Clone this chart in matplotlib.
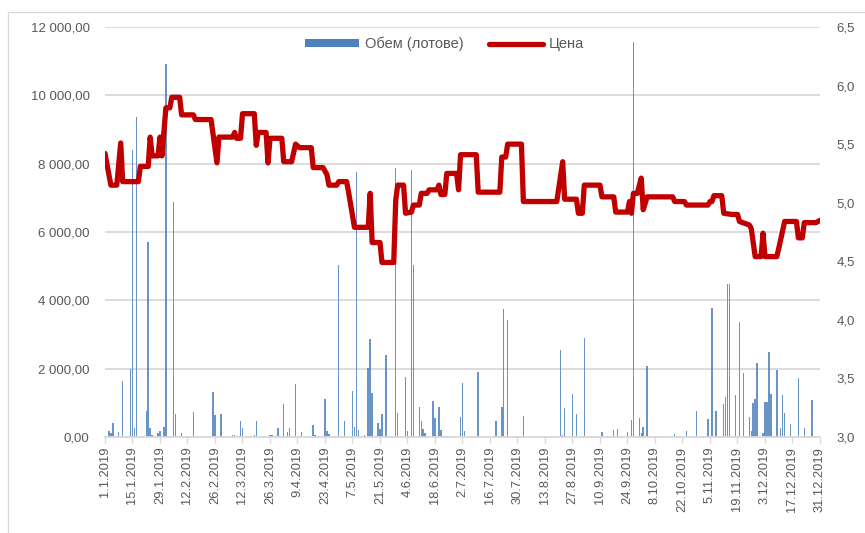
import numpy as np
import pandas as pd
import matplotlib
matplotlib.use("Agg")
import matplotlib.pyplot as plt
import matplotlib.dates as mdates
from matplotlib.patches import Rectangle, Patch
from matplotlib.lines import Line2D
from matplotlib.ticker import FuncFormatter, FixedLocator

START = pd.Timestamp("2019-01-01")

# price (right axis), day offsets from 1.1.2019
PRICE_DAYS = [0, 3, 6, 8, 9, 17, 18, 22, 23, 24, 27, 28, 29, 31, 33, 34, 38, 39, 45, 46,
              54, 57, 58, 65, 66, 67, 69, 70, 76, 77, 78, 82, 83, 84, 90, 91, 95, 97, 99,
              105, 106, 111, 113, 114, 118, 119, 123, 124, 127, 134, 135, 136, 140, 141,
              147, 148, 149, 152, 153, 156, 157, 160, 161, 164, 165, 169, 170, 171, 173,
              174, 179, 180, 181, 189, 190, 201, 202, 204, 205, 212, 213, 230, 233, 234,
              240, 241, 243, 244, 252, 253, 259, 260, 266, 267, 268, 269, 271, 273, 274,
              276, 289, 290, 295, 296, 307, 308, 309, 310, 314, 315, 319, 322, 323, 328,
              329, 331, 334, 335, 336, 342, 343, 346, 352, 353, 355, 356, 362, 364]
PRICE = [5.42, 5.15, 5.15, 5.51, 5.18, 5.18, 5.31, 5.31, 5.56, 5.40, 5.40, 5.56, 5.40,
         5.81, 5.81, 5.90, 5.90, 5.75, 5.75, 5.71, 5.71, 5.34, 5.56, 5.56, 5.60, 5.55,
         5.55, 5.76, 5.76, 5.49, 5.60, 5.60, 5.34, 5.55, 5.55, 5.35, 5.35, 5.50, 5.47,
         5.47, 5.30, 5.30, 5.24, 5.15, 5.15, 5.18, 5.18, 5.09, 4.79, 4.79, 5.08, 4.66,
         4.66, 4.49, 4.49, 5.02, 5.15, 5.15, 4.91, 4.92, 4.98, 4.98, 5.08, 5.08, 5.11,
         5.11, 5.15, 5.07, 5.07, 5.25, 5.25, 5.11, 5.41, 5.41, 5.09, 5.09, 5.39, 5.39,
         5.50, 5.50, 5.01, 5.01, 5.35, 5.03, 5.03, 4.91, 4.91, 5.15, 5.15, 5.05, 5.05,
         4.92, 4.92, 5.01, 4.91, 5.08, 5.08, 5.21, 4.94, 5.05, 5.05, 5.01, 5.01, 4.98,
         4.98, 5.01, 5.01, 5.06, 5.06, 4.91, 4.90, 4.90, 4.84, 4.81, 4.78, 4.54, 4.54,
         4.74, 4.54, 4.54, 4.61, 4.84, 4.84, 4.70, 4.70, 4.83, 4.83, 4.85]

# volume (left axis)
VOL_DAYS = [2, 3, 4, 7, 9, 13, 14, 15, 16, 21, 22, 23, 24, 27, 28, 30, 31, 35, 36, 39,
            45, 55, 56, 59, 65, 66, 69, 70, 76, 77, 84, 85, 88, 91, 93, 94, 97, 100,
            106, 107, 112, 113, 114, 119, 122, 126, 127, 128, 129, 132, 134, 135, 136,
            139, 140, 141, 143, 148, 149, 153, 154, 156, 157, 160, 161, 162, 163, 167,
            168, 170, 171, 174, 181, 182, 183, 190, 199, 202, 203, 205, 213, 232, 233,
            234, 238, 240, 244, 253, 259, 261, 266, 268, 269, 272, 273, 274, 276, 290,
            296, 301, 307, 309, 311, 315, 316, 317, 318, 321, 323, 325, 328, 329, 330,
            331, 332, 335, 336, 337, 338, 339, 342, 344, 345, 346, 349, 353, 356, 360]
VOLUME = [170, 120, 410, 150, 1640, 1990, 8400, 260, 9370, 760, 5700, 260, 60, 120, 170,
          290, 10920, 6880, 670, 120, 730, 1310, 640, 670, 60, 60, 470, 260, 60, 470, 60,
          60, 260, 970, 150, 260, 1550, 150, 350, 50, 1110, 170, 90, 5030, 470, 1350,
          290, 7760, 200, 60, 2020, 2870, 1290, 410, 230, 670, 2400, 7870, 700, 1760,
          170, 7820, 5030, 880, 470, 230, 120, 1050, 560, 880, 200, 30, 580, 1580, 170,
          1900, 470, 880, 3750, 3420, 620, 2550, 60, 850, 1260, 670, 2900, 150, 200, 230,
          150, 500, 11560, 560, 120, 290, 2080, 90, 170, 760, 530, 3780, 760, 970, 1170,
          4480, 4480, 1230, 3370, 1870, 580, 170, 1000, 1110, 2170, 120, 1020, 1020, 2490,
          1260, 1960, 260, 1230, 700, 380, 1730, 260, 1080]

VOL_TICKS = [0, 2000, 4000, 6000, 8000, 10000, 12000]
PRICE_TICKS = [3.0, 3.5, 4.0, 4.5, 5.0, 5.5, 6.0, 6.5]
LABELS = ["Обем (лотове)", "Цена"]

GREY_TXT = "#595959"
GRID = "#D9D9D9"
BLUE = "#4F81BD"
RED = "#C00000"

plt.rcParams["font.family"] = ["Liberation Sans", "DejaVu Sans"]
plt.rcParams["font.size"] = 9

price_dates = START + pd.to_timedelta(PRICE_DAYS, unit="D")
vol_dates = START + pd.to_timedelta(VOL_DAYS, unit="D")
tick_dates = START + pd.to_timedelta(np.arange(0, 365, 14), unit="D")

fig = plt.figure(figsize=(8.65, 5.33), dpi=100)
fig.patches.append(Rectangle((8 / 865, -0.01), 1.0, (533 - 12) / 533 + 0.01,
                             transform=fig.transFigure, fill=False,
                             edgecolor=GRID, lw=1.0))

ax = fig.add_axes([105 / 865, 1 - 437 / 533, 715 / 865, 410 / 533])
ax.bar(vol_dates, VOLUME, width=0.75, color=BLUE, alpha=0.85, zorder=2)
ax.set_ylim(0, 12000)
ax.set_yticks(VOL_TICKS)
ax.yaxis.set_major_formatter(FuncFormatter(
    lambda v, p: f"{v:,.2f}".replace(",", " ").replace(".", ",")))
ax.grid(axis="y", color=GRID, lw=1.3, zorder=0)
ax.set_axisbelow(True)
for s in ["left", "right", "top"]:
    ax.spines[s].set_visible(False)
ax.spines["bottom"].set_color(GRID)
ax.spines["bottom"].set_linewidth(1.3)
ax.tick_params(axis="y", length=0, pad=11, labelcolor=GREY_TXT, labelsize=9.5)

ax.set_xlim(START, START + pd.Timedelta(days=364))
ax.xaxis.set_major_locator(FixedLocator(mdates.date2num(tick_dates)))
ax.xaxis.set_major_formatter(FuncFormatter(
    lambda v, p: (lambda d: f"{d.day}.{d.month}.{d.year}")(mdates.num2date(v))))
ax.tick_params(axis="x", length=4, color=GRID, width=1.0, pad=3,
               labelrotation=90, labelcolor=GREY_TXT, labelsize=9.3)

ax2 = ax.twinx()
ax2.plot(price_dates, PRICE, color=RED, lw=3.8, solid_joinstyle="round",
         solid_capstyle="round", zorder=3)
ax2.set_ylim(3.0, 6.5)
ax2.set_yticks(PRICE_TICKS)
ax2.yaxis.set_major_formatter(FuncFormatter(lambda v, p: f"{v:.1f}".replace(".", ",")))
for s in ["left", "right", "top", "bottom"]:
    ax2.spines[s].set_visible(False)
ax2.tick_params(axis="y", length=0, pad=12, labelcolor=GREY_TXT, labelsize=9.5)

handles = [Patch(facecolor=BLUE, edgecolor="none"),
           Line2D([], [], color=RED, lw=3.8, solid_capstyle="round")]
leg = ax2.legend(handles, LABELS, loc="center", bbox_to_anchor=(0.475, 0.958),
                 ncol=2, frameon=False, handlelength=3.7, handleheight=0.5,
                 columnspacing=1.8, handletextpad=0.4, fontsize=10.5)
for t in leg.get_texts():
    t.set_color(GREY_TXT)

fig.savefig("out.png", dpi=100)
